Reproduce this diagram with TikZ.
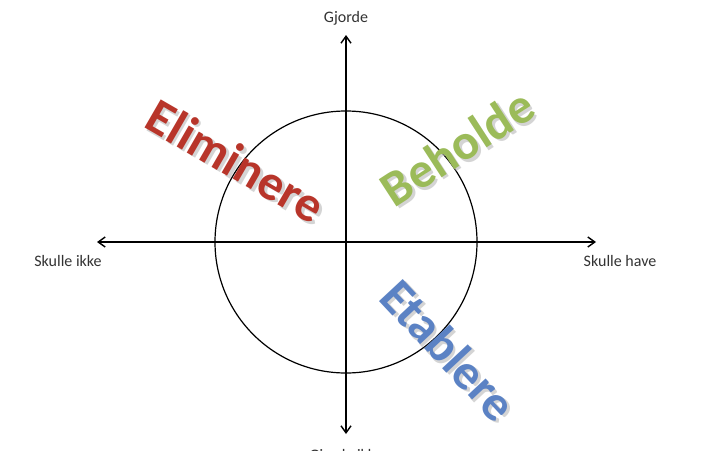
\documentclass[tikz,border=0pt]{standalone}
\usepackage{fontspec}
\setmainfont{Carlito}
\usetikzlibrary{arrows.meta}
\definecolor{axtext}{HTML}{333333}
\definecolor{elimred}{HTML}{B8352A}
\definecolor{behgreen}{HTML}{9BBB59}
\definecolor{etabblue}{HTML}{5B82C4}
\definecolor{shad}{HTML}{B8B8B8}
\tikzset{
  axis/.style={line width=1.4pt, -{Straight Barb[length=7pt,width=10pt,line width=1.4pt]}},
  axlabel/.style={font=\fontsize{16}{18}\selectfont, text=axtext, inner sep=0pt, anchor=base},
  bigword/.style={font=\fontsize{50}{56}\selectfont\bfseries, inner sep=0pt},
  shadowword/.style={bigword, text=shad, opacity=0.6}
}
\begin{document}
\begin{tikzpicture}[x=1pt,y=-1pt]
\useasboundingbox[fill=white] (0,0) rectangle (720,450);
\coordinate (c) at (346,242);
\coordinate (left) at (97,242);
\coordinate (right) at (596,242);
\coordinate (top) at (346,35);
\coordinate (bottom) at (346,434);
\draw[line width=1.2pt] (c) circle[radius=131pt];
\draw[axis] (c) -- (left);
\draw[axis] (c) -- (right);
\draw[axis] (c) -- (top);
\draw[axis] (c) -- (bottom);
\node[axlabel] (gj) at (346,22) {Gjorde};
\node[axlabel] (gjik) at (346,460) {Gjorde ikke};
\node[axlabel] (sik) at (68,266) {Skulle ikke};
\node[axlabel] (shv) at (620,266) {Skulle have};
% shadows
\node[shadowword, rotate=-30] (elims) at (238.5,163.5) {Eliminere};
\node[shadowword, rotate=33] (behs) at (459.5,149.5) {Beholde};
\node[shadowword, rotate=-47] (etas) at (451.5,352.5) {Etablere};
% words
\node[bigword, text=elimred, rotate=-30] (elim) at (236,161) {Eliminere};
\node[bigword, text=behgreen, rotate=33] (beh) at (457,147) {Beholde};
\node[bigword, text=etabblue, rotate=-47] (eta) at (449,350) {Etablere};
\end{tikzpicture}
\end{document}
